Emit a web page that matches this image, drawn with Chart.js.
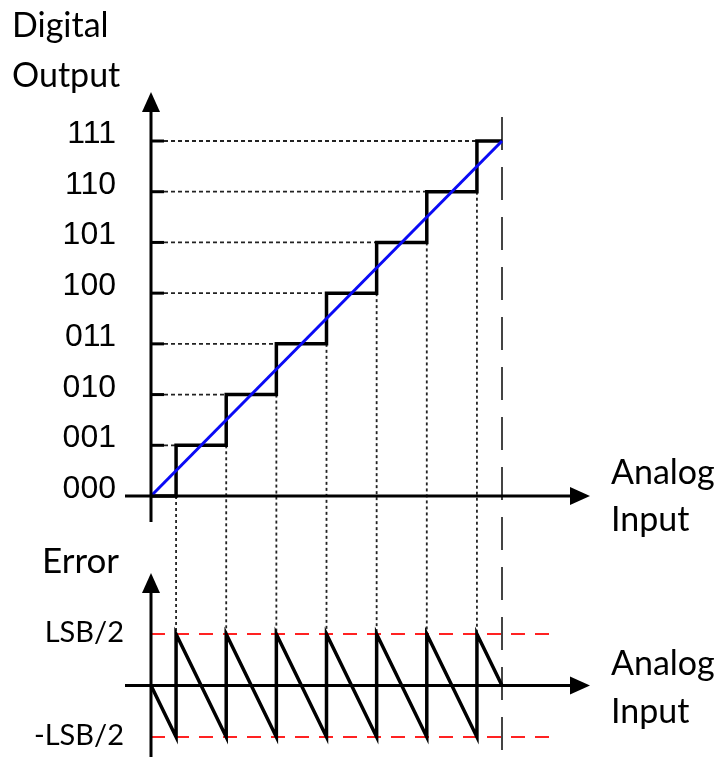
<!DOCTYPE html>
<html>
<head>
<meta charset="utf-8">
<script src="https://cdn.jsdelivr.net/npm/chart.js@4"></script>
<style>
  html, body { margin: 0; padding: 0; background: #fff; }
  #wrap { width: 718px; height: 757px; }
</style>
</head>
<body>
<div id="wrap"><canvas id="adcChart"></canvas></div>
<script>
// output codes and their levels (in LSB)
const codes = ['000', '001', '010', '011', '100', '101', '110', '111'];
const levels = [0, 1, 2, 3, 4, 5, 6, 7];

// quantizer staircase: transitions at half-LSB points
const stepX = [0, 0.5, 1.5, 2.5, 3.5, 4.5, 5.5, 6.5, 7];
const stepY = [0, 1, 2, 3, 4, 5, 6, 7, 7];

// ideal (unquantized) transfer line
const idealX = [0, 7];
const idealY = [0, 7];

// quantization error = output - input
const errX = [0, 0.5, 0.5, 1.5, 1.5, 2.5, 2.5, 3.5, 3.5, 4.5, 4.5, 5.5, 5.5, 6.5, 6.5, 7];
const errY = [0, -0.5, 0.5, -0.5, 0.5, -0.5, 0.5, -0.5, 0.5, -0.5, 0.5, -0.5, 0.5, -0.5, 0.5, 0];

// error bounds and labels
const errBounds = [0.5, -0.5];
const errLabels = ['LSB/2', '-LSB/2'];
const boundX = [0, 8.04];

const fullScale = 7;

const toPts = (xs, ys) => xs.map((x, i) => ({ x, y: ys[i] }));

const TITLE_FONT = '34px Lato, "Open Sans", sans-serif';
const ERR_FONT = '35px Lato, "Open Sans", sans-serif';
const BOUND_FONT = '29px Lato, "Open Sans", sans-serif';
const CODE_FONT = '32px "Liberation Sans", Arial, sans-serif';

function arrow(ctx, x1, y1, x2, y2) {
  // solid line with filled triangular head at (x2, y2)
  const len = 20, half = 9;
  const a = Math.atan2(y2 - y1, x2 - x1);
  const bx = x2 - len * Math.cos(a), by = y2 - len * Math.sin(a);
  ctx.beginPath();
  ctx.moveTo(x1, y1);
  ctx.lineTo(bx, by);
  ctx.stroke();
  ctx.beginPath();
  ctx.moveTo(x2, y2);
  ctx.lineTo(bx + half * Math.sin(a), by - half * Math.cos(a));
  ctx.lineTo(bx - half * Math.sin(a), by + half * Math.cos(a));
  ctx.closePath();
  ctx.fill();
}

const diagramPlugin = {
  id: 'diagram',
  beforeDatasetsDraw(chart) {
    const ctx = chart.ctx;
    const { x, yTop, yErr } = chart.scales;
    const x0 = x.getPixelForValue(0);
    ctx.save();
    ctx.strokeStyle = '#222';
    ctx.lineWidth = 1.8;

    // horizontal guides from the axis to each step
    ctx.setLineDash([4, 3]);
    for (let k = 1; k < codes.length; k++) {
      const y = yTop.getPixelForValue(levels[k]);
      ctx.beginPath();
      ctx.moveTo(x0 + 13, y);
      ctx.lineTo(x.getPixelForValue(stepX[k]), y);
      ctx.stroke();
    }

    // vertical guides from each transition down to the error peak
    ctx.setLineDash([3, 3]);
    for (let k = 1; k < stepX.length - 1; k++) {
      const px = x.getPixelForValue(stepX[k]);
      ctx.beginPath();
      ctx.moveTo(px, yTop.getPixelForValue(stepY[k - 1]));
      ctx.lineTo(px, yErr.getPixelForValue(errBounds[0]));
      ctx.stroke();
    }

    // full scale marker
    ctx.strokeStyle = '#444';
    ctx.lineWidth = 2;
    ctx.setLineDash([33, 17]);
    const fx = x.getPixelForValue(fullScale);
    ctx.beginPath();
    ctx.moveTo(fx, yTop.getPixelForValue(fullScale) - 24);
    ctx.lineTo(fx, chart.height);
    ctx.stroke();
    ctx.restore();
  },
  afterDatasetsDraw(chart) {
    const ctx = chart.ctx;
    const { x, yTop, yErr } = chart.scales;
    const x0 = x.getPixelForValue(0);
    const t0 = yTop.getPixelForValue(0);
    const e0 = yErr.getPixelForValue(0);
    ctx.save();
    ctx.strokeStyle = '#000';
    ctx.fillStyle = '#000';
    ctx.lineWidth = 3;
    ctx.setLineDash([]);

    // transfer function axes
    arrow(ctx, x0, t0 + 26, x0, yTop.getPixelForValue(fullScale) - 49);
    arrow(ctx, x0 - 26, t0, 590, t0);
    // level ticks
    for (let k = 1; k < codes.length; k++) {
      const y = yTop.getPixelForValue(levels[k]);
      ctx.beginPath();
      ctx.moveTo(x0, y);
      ctx.lineTo(x0 + 13, y);
      ctx.stroke();
    }
    // error axes
    arrow(ctx, x0, chart.height, x0, yErr.getPixelForValue(errBounds[0]) - 61);
    arrow(ctx, x0 - 26, e0, 590, e0);

    // code labels
    ctx.font = CODE_FONT;
    ctx.textAlign = 'right';
    ctx.textBaseline = 'alphabetic';
    codes.forEach((c, i) => {
      ctx.fillText(c, 116, yTop.getPixelForValue(levels[i]) + 2);
    });

    // error labels
    ctx.font = BOUND_FONT;
    errLabels.forEach((t, i) => {
      ctx.fillText(t, 124, yErr.getPixelForValue(errBounds[i]) + 8);
    });

    ctx.textAlign = 'left';
    ctx.font = ERR_FONT;
    ctx.fillText('Error', 42, 573);
    ctx.font = TITLE_FONT;
    ctx.fillText('Digital', 12, 37);
    ctx.fillText('Output', 12, 87);
    ctx.fillText('Analog', 611, t0 - 12);
    ctx.fillText('Input', 611, t0 + 35);
    ctx.fillText('Analog', 611, e0 - 10);
    ctx.fillText('Input', 611, e0 + 38);
    ctx.restore();
  }
};

new Chart(document.getElementById('adcChart'), {
  type: 'line',
  data: {
    datasets: [
      {
        label: 'Ideal',
        data: toPts(idealX, idealY),
        yAxisID: 'yTop',
        borderColor: '#0a0af5',
        borderWidth: 3,
        pointRadius: 0,
        order: 0
      },
      {
        label: 'Quantized',
        data: toPts(stepX, stepY),
        yAxisID: 'yTop',
        borderColor: '#000',
        borderWidth: 3.5,
        stepped: 'before',
        pointRadius: 0,
        order: 1
      },
      {
        label: 'Error',
        data: toPts(errX, errY),
        yAxisID: 'yErr',
        borderColor: '#000',
        borderWidth: 3.5,
        pointRadius: 0,
        order: 1
      },
      {
        label: '+LSB/2',
        data: toPts(boundX, [errBounds[0], errBounds[0]]),
        yAxisID: 'yErr',
        borderColor: '#f22',
        borderWidth: 2,
        borderDash: [14, 10],
        pointRadius: 0,
        order: 2
      },
      {
        label: '-LSB/2',
        data: toPts(boundX, [errBounds[1], errBounds[1]]),
        yAxisID: 'yErr',
        borderColor: '#f22',
        borderWidth: 2,
        borderDash: [14, 10],
        pointRadius: 0,
        order: 2
      }
    ]
  },
  options: {
    responsive: true,
    maintainAspectRatio: false,
    animation: false,
    layout: { padding: { left: 151, right: 216, top: 141, bottom: 20 } },
    plugins: { legend: { display: false }, tooltip: { enabled: false } },
    elements: { line: { tension: 0 } },
    clip: false,
    scales: {
      x: { type: 'linear', min: 0, max: 7, display: false },
      yTop: { type: 'linear', position: 'left', min: -4.752, max: 7, display: false },
      yErr: { type: 'linear', position: 'left', min: -0.5, max: 5.286, display: false }
    }
  },
  plugins: [diagramPlugin]
});
</script>
</body>
</html>
